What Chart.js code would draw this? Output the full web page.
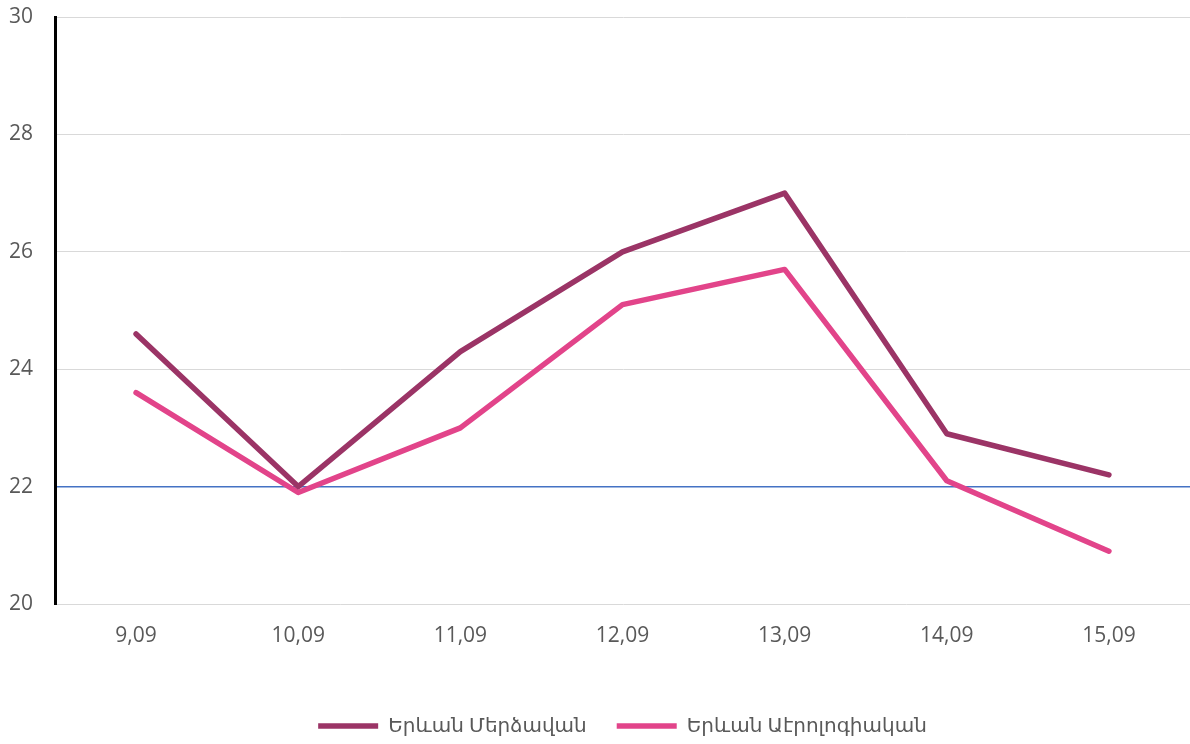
<!DOCTYPE html>
<html lang="hy">
<head>
  <meta charset="UTF-8" />
  <title>Temperature</title>
  <script src="https://cdn.jsdelivr.net/npm/chart.js"></script>
  <style>
    html, body {
      margin: 0;
      padding: 0;
      background: #ffffff;
      overflow: hidden;
    }
    #wrap {
      width: 1190px;
      height: 744px;
    }
  </style>
</head>
<body>
  <div id="wrap"><canvas id="tempChart"></canvas></div>

  <script>
    const days = ['9,09', '10,09', '11,09', '12,09', '13,09', '14,09', '15,09'];
    const merdzavan = [24.6, 22.0, 24.3, 26.0, 27.0, 22.9, 22.2];
    const aeroport = [23.6, 21.9, 23.0, 25.1, 25.7, 22.1, 20.9];
    const seriesNames = ['Երևան Մերձավան', 'Երևան Աէրոլոգիական'];
    const refLine = 22;

    const fontFamily = '"Open Sans", "Noto Sans", "DejaVu Sans", sans-serif';

    // legend is centred under the plot area, not the whole canvas
    const legendShift = {
      id: 'legendShift',
      afterLayout(chart) {
        const lg = chart.legend;
        const dx = (chart.chartArea.left + chart.chartArea.right) / 2 - (lg.left + lg.right) / 2;
        lg.left += dx;
        lg.right += dx;
      }
    };

    const ctx = document.getElementById('tempChart').getContext('2d');
    new Chart(ctx, {
      type: 'line',
      data: {
        labels: days,
        datasets: [
          {
            label: seriesNames[0],
            data: merdzavan,
            borderColor: '#9b3466',
            backgroundColor: '#9b3466',
            borderWidth: 5.5,
            borderCapStyle: 'round',
            borderJoinStyle: 'round',
            pointRadius: 0,
            tension: 0
          },
          {
            label: seriesNames[1],
            data: aeroport,
            borderColor: '#e2448a',
            backgroundColor: '#e2448a',
            borderWidth: 5.5,
            borderCapStyle: 'round',
            borderJoinStyle: 'round',
            pointRadius: 0,
            tension: 0
          }
        ]
      },
      options: {
        responsive: true,
        maintainAspectRatio: false,
        animation: false,
        layout: {
          padding: { left: 0, top: 17, right: 0, bottom: -2 }
        },
        scales: {
          x: {
            offset: true,
            grid: { display: false, drawTicks: false },
            border: { display: false },
            ticks: {
              color: '#595959',
              padding: 19,
              font: { family: fontFamily, size: 21 }
            },
            afterFit: s => { s.height = 82; }
          },
          y: {
            min: 20,
            max: 30,
            ticks: {
              stepSize: 2,
              color: '#595959',
              padding: 22,
              font: { family: fontFamily, size: 21 }
            },
            grid: {
              drawTicks: false,
              color: c => (c.tick && c.tick.value === refLine) ? '#4472c4' : '#d9d9d9',
              lineWidth: c => (c.tick && c.tick.value === refLine) ? 1.5 : 1
            },
            border: { color: '#000000', width: 3 },
            afterFit: s => {
              s.width = 55;
              s.paddingTop = 0;
              s.paddingBottom = 0;
            }
          }
        },
        plugins: {
          legend: {
            position: 'bottom',
            labels: {
              usePointStyle: true,
              pointStyle: 'line',
              pointStyleWidth: 60,
              color: '#595959',
              padding: 30,
              font: { family: fontFamily, size: 20 }
            }
          },
          tooltip: { enabled: false }
        }
      },
      plugins: [legendShift]
    });
  </script>
</body>
</html>
